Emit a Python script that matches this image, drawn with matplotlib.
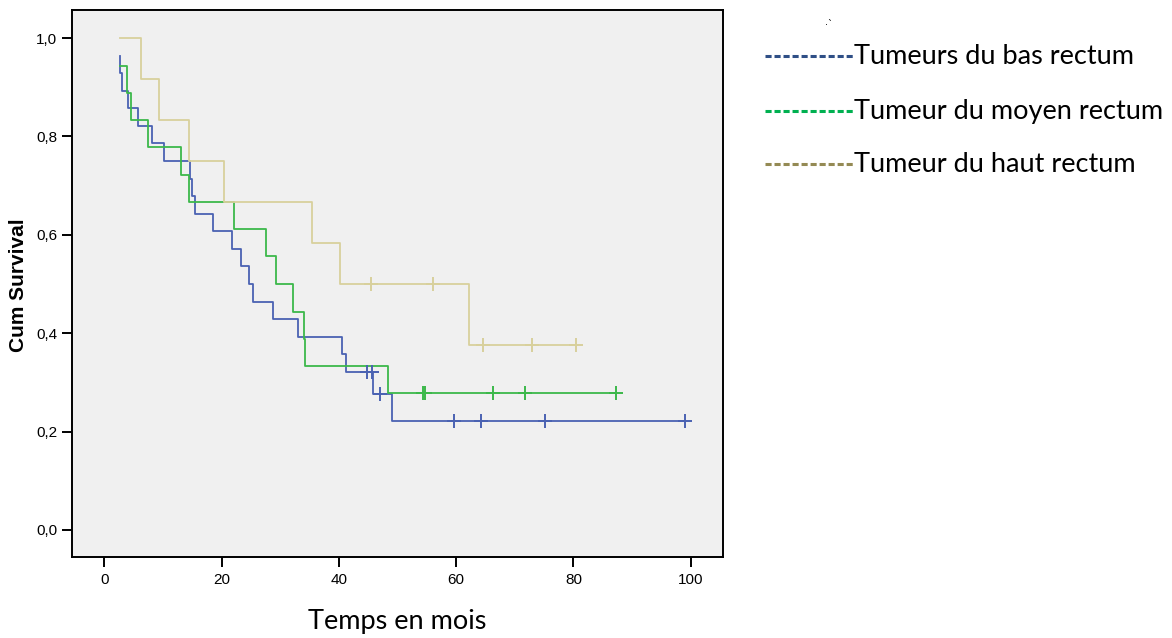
import numpy as np
import matplotlib
matplotlib.use("Agg")
import matplotlib.pyplot as plt
from matplotlib.lines import Line2D

# ---- data ----
bas_times = [2.7, 2.7, 3.1, 4.1, 5.8, 8.1, 10.2, 14.6, 14.9, 15.4, 18.6, 21.7, 23.3,
             24.7, 25.4, 28.7, 33.0, 40.6, 41.2, 45.9, 49.0, 99.0]
bas_surv = [0.964, 0.929, 0.893, 0.857, 0.821, 0.786, 0.750, 0.714, 0.679, 0.643, 0.607,
            0.571, 0.536, 0.500, 0.464, 0.429, 0.393, 0.357, 0.321, 0.276, 0.221, 0.221]
bas_cens = [44.8, 45.7, 47.0, 59.7, 64.3, 75.1, 99.0]

moy_times = [2.7, 3.9, 4.6, 7.4, 13.0, 14.4, 22.1, 27.5, 29.3, 32.2, 34.0, 34.2, 48.3, 87.3]
moy_surv = [0.944, 0.889, 0.833, 0.778, 0.722, 0.667, 0.611, 0.556, 0.500, 0.444,
            0.389, 0.333, 0.278, 0.278]
moy_cens = [54.3, 54.7, 66.3, 71.8, 87.3]

haut_times = [2.6, 6.2, 9.3, 14.4, 20.5, 35.4, 40.2, 62.2, 80.4]
haut_surv = [1.0, 0.917, 0.833, 0.750, 0.667, 0.583, 0.500, 0.375, 0.375]
haut_cens = [45.4, 56.1, 64.6, 73.0, 80.4]

labels = ["Tumeurs du bas rectum", "Tumeur du moyen rectum", "Tumeur du haut rectum"]
x_ticks = [0, 20, 40, 60, 80, 100]
y_ticks = [0.0, 0.2, 0.4, 0.6, 0.8, 1.0]
y_ticklabels = ["0,0", "0,2", "0,4", "0,6", "0,8", "1,0"]

curve_colors = ["#4a62b2", "#3cb84a", "#d8d09c"]
legend_colors = ["#2f4f86", "#00b050", "#948a54"]

# ---- figure ----
W, H = 1172, 638
fig = plt.figure(figsize=(W / 100, H / 100), dpi=100)
fig.patch.set_facecolor("white")
ax = fig.add_axes([72 / W, (H - 557) / H, (723 - 72) / W, (557 - 10) / H])
ax.set_facecolor("#f0f0f0")

def surv_at(times, surv, t):
    idx = np.searchsorted(np.array(times), t, side="right") - 1
    idx = max(idx, 0)
    return surv[idx]

groups = [(bas_times, bas_surv, bas_cens), (moy_times, moy_surv, moy_cens),
          (haut_times, haut_surv, haut_cens)]
for (tt, ss, cc), col in zip(groups, curve_colors):
    ax.step(tt, ss, where="post", color=col, lw=1.3, zorder=3)
    cy = [surv_at(tt, ss, c) for c in cc]
    ax.plot(cc, cy, linestyle="none", marker="+", markersize=10, mew=1.4,
            color=col, zorder=4)

ax.set_xlim(-5.5, 105.5)
ax.set_ylim(-0.055, 1.057)
ax.set_xticks(x_ticks)
ax.set_xticklabels([str(v) for v in x_ticks], fontsize=11, family="Liberation Sans")
ax.set_yticks(y_ticks)
ax.set_yticklabels(y_ticklabels, fontsize=11, family="Liberation Sans")
ax.tick_params(axis="both", direction="out", length=7.5, width=1.4, color="black")
ax.tick_params(axis="x", pad=4)
ax.tick_params(axis="y", pad=3)
for sp in ax.spines.values():
    sp.set_linewidth(1.4)
    sp.set_color("black")

ax.set_ylabel("Cum Survival", fontsize=15, fontweight="bold", family="Liberation Sans")
ax.yaxis.set_label_coords(-0.068, 0.497)

fig.text(397 / W, 1 - 622 / H, "Temps en mois", fontsize=19.5, family="Lato",
         ha="center", va="center")

# small stray marks at the top of the legend area
fig.text(829 / W, 1 - 24 / H, "·`", fontsize=7, ha="center", va="center", color="black")

# legend drawn as dashed lines + text (as in the reference)
leg_y = [56, 111, 164]
for lab, col, y in zip(labels, legend_colors, leg_y):
    fy = 1 - y / H
    fig.add_artist(Line2D([765 / W, 853 / W], [fy, fy], transform=fig.transFigure,
                          color=col, lw=2.2, dashes=(2.0, 0.95)))
    fig.text(854 / W, 1 - (y + 8) / H, lab, fontsize=19.5, family="Lato", ha="left",
             va="baseline", color="black")

fig.savefig("out.png", dpi=100)
